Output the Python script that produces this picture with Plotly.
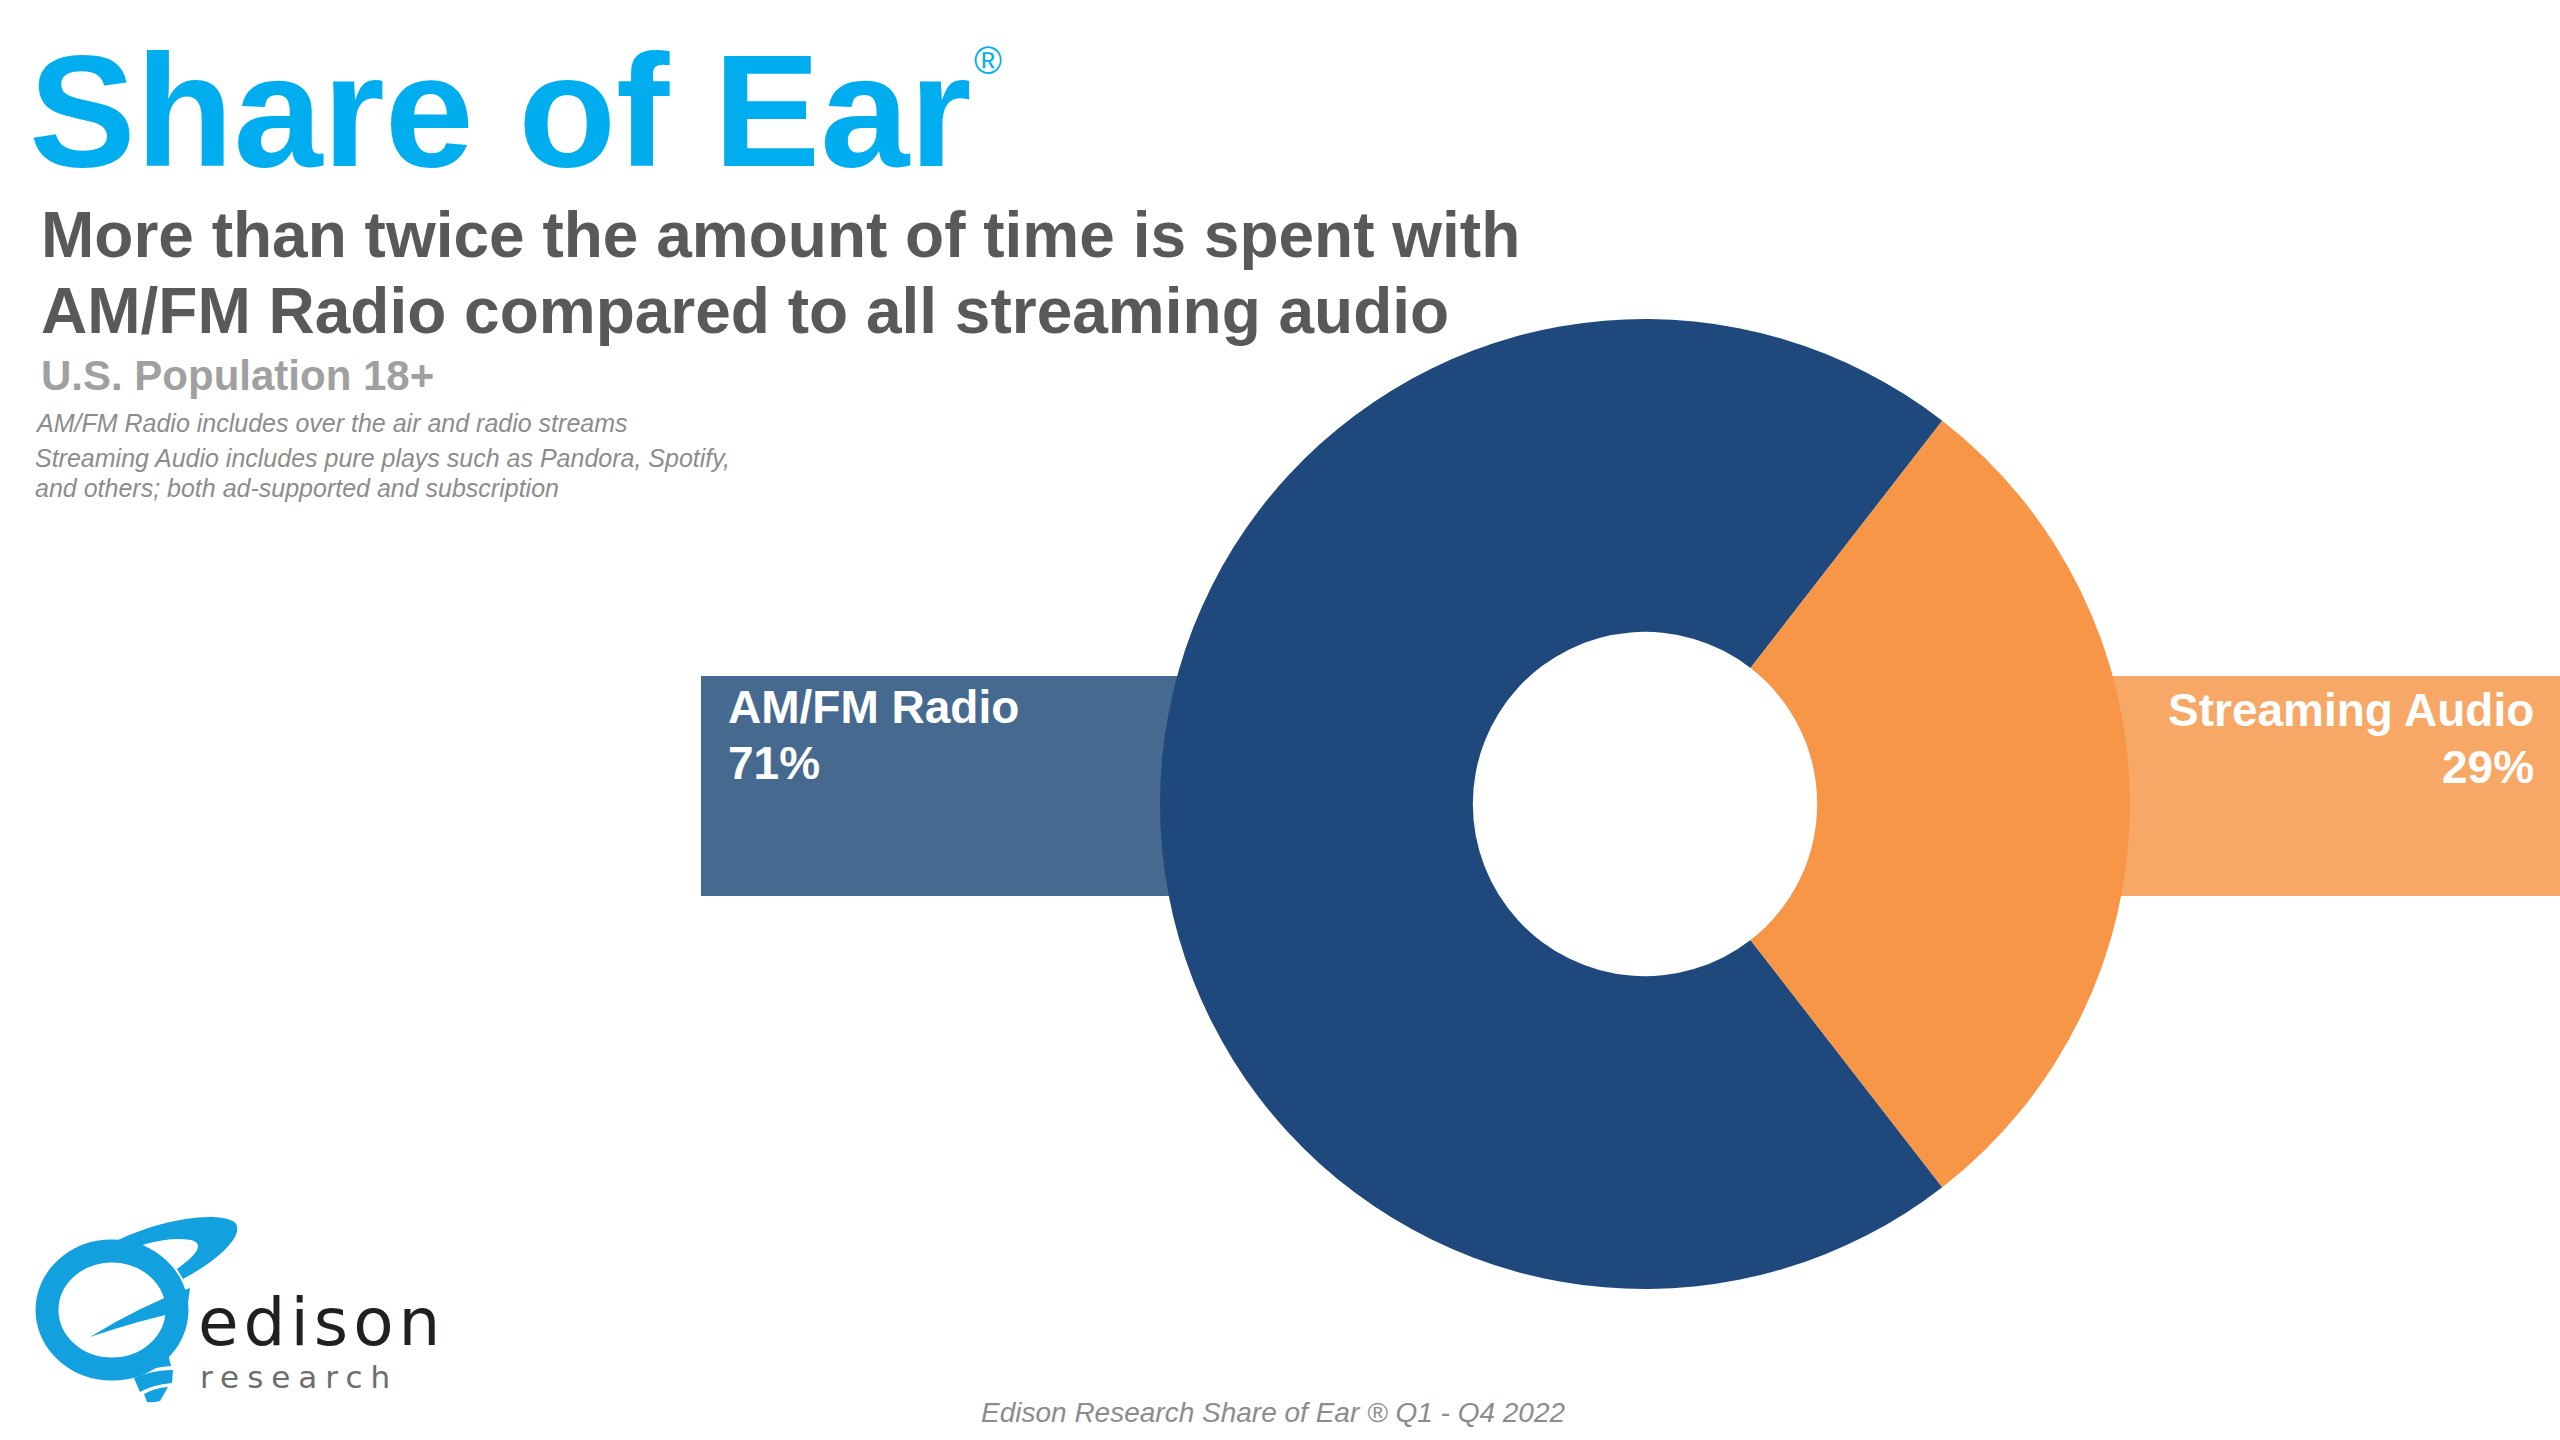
import plotly.graph_objects as go

# ── Data ──────────────────────────────────────────────────────────────────────
labels = ["AM/FM Radio", "Streaming Audio"]
shares = [71, 29]
slice_colors = ["#1F497D", "#F79646"]
box_colors = ["#46698F", "#F7A866"]

title = "Share of Ear"
subtitle = ["More than twice the amount of time is spent with",
            "AM/FM Radio compared to all streaming audio"]
population = "U.S. Population 18+"
notes = ["AM/FM Radio includes over the air and radio streams",
         "Streaming Audio includes pure plays such as Pandora, Spotify,",
         "and others; both ad-supported and subscription"]
source = "Edison Research Share of Ear ® Q1 - Q4 2022"

W, H = 2560, 1440
FONT = "Arial, 'Liberation Sans', sans-serif"
CYAN = "#00AEEF"
LOGO = "#12A0DE"

fig = go.Figure()

# invisible pixel-space axes for the slide furniture
fig.add_trace(go.Scatter(x=[], y=[], showlegend=False, hoverinfo="skip"))

# ── Donut ─────────────────────────────────────────────────────────────────────
cx, cy, R = 1645, 804, 485
fig.add_trace(go.Pie(
    labels=labels, values=shares, sort=False, direction="clockwise",
    rotation=90 + shares[1] / sum(shares) * 180,
    hole=0.355, textinfo="none", showlegend=False,
    marker=dict(colors=slice_colors, line=dict(width=0)),
    domain=dict(x=[(cx - R) / W, (cx + R) / W], y=[1 - (cy + R) / H, 1 - (cy - R) / H]),
))


def text(x, base, s, size, color, anchor="left", bold=False, italic=False, family=FONT):
    if bold:
        s = f"<b>{s}</b>"
    if italic:
        s = f"<i>{s}</i>"
    fig.add_annotation(x=x, y=base - 0.3465 * size, text=s, showarrow=False,
                       xref="x", yref="y", xanchor=anchor, yanchor="middle",
                       borderpad=0, font=dict(family=family, size=size, color=color))


# ── Label boxes (behind donut) ────────────────────────────────────────────────
shapes = [
    dict(type="rect", x0=701, x1=1300, y0=676, y1=896, fillcolor=box_colors[0]),
    dict(type="rect", x0=1990, x1=2565, y0=676, y1=896, fillcolor=box_colors[1]),
]
for sh in shapes:
    sh.update(xref="x", yref="y", layer="below", line=dict(width=0))

text(727, 723, labels[0], 46, "white", bold=True)
text(727, 779, f"{shares[0]}%", 46, "white", bold=True)
text(2535, 726, labels[1], 46, "white", anchor="right", bold=True)
text(2535, 783, f"{shares[1]}%", 46, "white", anchor="right", bold=True)

# ── Titles and notes ──────────────────────────────────────────────────────────
text(28, 166, title, 160, CYAN, bold=True)
text(973, 74, "®", 38, CYAN)
text(40, 257, subtitle[0], 64, "#595959", bold=True)
text(40, 333, subtitle[1], 64, "#595959", bold=True)
text(40, 390, population, 42, "#A0A0A0", bold=True)
text(34, 432, notes[0], 25, "#8C8C8C", italic=True)
text(34, 467, notes[1], 25, "#8C8C8C", italic=True)
text(34, 497, notes[2], 25, "#8C8C8C", italic=True)
text(1273, 1422, source, 28, "#8C8C8C", anchor="center", italic=True)

# ── Edison Research logo ──────────────────────────────────────────────────────
logo_paths = [
    # orbit swoosh
    "M 106 1246 C 150 1222, 210 1210, 233 1221 C 247 1230, 226 1256, 183 1279 "
    "L 177 1269 C 195 1256, 206 1244, 191 1240 C 170 1236, 140 1243, 118 1256 Z",
    # e-bar
    "M 90 1337 Q 140 1306 190 1288 L 187 1310 Q 140 1320 90 1337 Z",
    # screw base
    "M 134 1360 Q 150 1352 168 1354 L 171 1366 Q 152 1367 138 1374 Z",
    "M 134 1378 Q 152 1370 173 1370 L 172 1383 Q 152 1385 140 1392 Z",
    "M 144 1394 Q 155 1388 168 1387 L 160 1401 Q 152 1403 147 1402 Z",
]
for p in logo_paths:
    shapes.append(dict(type="path", path=p, xref="x", yref="y",
                       fillcolor=LOGO, line=dict(width=0), layer="above"))
shapes.append(dict(type="circle", xref="x", yref="y", x0=47, x1=177, y0=1251, y1=1369,
                   line=dict(color=LOGO, width=23), layer="above"))

text(197, 1345, '<span style="letter-spacing:5px">edison</span>', 66, "#231F20",
     family="'DejaVu Sans', sans-serif")
text(199, 1388, '<span style="letter-spacing:8px">research</span>', 31, "#6D6D6D",
     family="'DejaVu Sans', sans-serif")

fig.update_layout(
    width=W, height=H, margin=dict(l=0, r=0, t=0, b=0),
    paper_bgcolor="white", plot_bgcolor="white",
    shapes=shapes,
    xaxis=dict(range=[0, W], visible=False, fixedrange=True),
    yaxis=dict(range=[H, 0], visible=False, fixedrange=True),
)

fig.write_html("out.html", config={"displayModeBar": False},
               post_script="document.body.style.margin='0';")
